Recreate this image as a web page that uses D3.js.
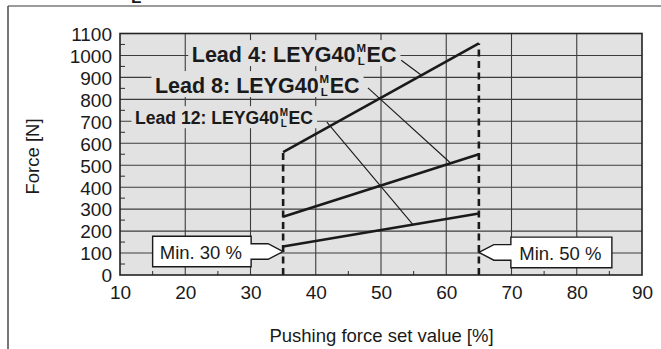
<!DOCTYPE html>
<html>
<head>
<meta charset="utf-8">
<script src="https://cdn.jsdelivr.net/npm/d3@7"></script>
<style>
  html, body { margin: 0; padding: 0; background: #ffffff; }
  svg { display: block; font-family: Arial, "Liberation Sans", Helvetica, sans-serif; }
</style>
</head>
<body>
<svg id="chart" width="661" height="349"></svg>
<script>
// ---------------- data ----------------
const xTicks = [10, 20, 30, 40, 50, 60, 70, 80, 90];
const yTicks = [0, 100, 200, 300, 400, 500, 600, 700, 800, 900, 1000, 1100];
const xMinor = [15, 25, 35, 45, 55, 65, 75, 85];
const yMinor = [50, 150, 250, 350, 450, 550, 650, 750, 850, 950, 1050];
const setValues = [35, 65];               // pushing force set value [%]
const lead4 = [560, 1055];                // force [N]
const lead8 = [265, 550];
const lead12 = [130, 280];
const seriesNames = ["Lead 4", "Lead 8", "Lead 12"];
const labelMain = ["Lead 4: LEYG40", "Lead 8: LEYG40", "Lead 12: LEYG40"];
const labelX = [21.0, 15.35, 12.3];
const labelY = [972, 831, 689];
const leaderStart = [[53.1, 978], [48.0, 852], [41.7, 696]];
const leaderEndX = [56.2, 60.7, 54.9];
const calloutText = ["Min. 30 %", "Min. 50 %"];
const calloutX = [35, 65];
const calloutY = [107, 103];
const xTitle = "Pushing force set value [%]";
const yTitle = "Force [N]";

// ---------------- layout ----------------
const svg = d3.select("#chart");
const plot = { left: 120, right: 642, top: 33.5, bottom: 275 };
const x = d3.scaleLinear().domain([10, 90]).range([plot.left, plot.right]);
const y = d3.scaleLinear().domain([0, 1100]).range([plot.bottom, plot.top]);
const dark = "#1a1a1a";
const gridCol = "#3c3c3c";
const bgCol = "#e2e2e2";

// outer frame
svg.append("line").attr("x1", 8).attr("x2", 661).attr("y1", 6).attr("y2", 6)
  .attr("stroke", "#7a7a7a").attr("stroke-width", 1.6);
svg.append("line").attr("x1", 8).attr("x2", 8).attr("y1", 6).attr("y2", 349)
  .attr("stroke", "#555").attr("stroke-width", 1.6);
svg.append("text").attr("x", 131).attr("y", 3).attr("font-size", 17).attr("font-weight", "bold")
  .attr("fill", dark).text("L");

// plot background
svg.append("rect").attr("x", plot.left).attr("y", plot.top)
  .attr("width", plot.right - plot.left).attr("height", plot.bottom - plot.top)
  .attr("fill", bgCol);

// grid
const grid = svg.append("g");
grid.selectAll(".vg").data(xTicks.slice(1, -1)).join("line")
  .attr("x1", d => x(d)).attr("x2", d => x(d)).attr("y1", plot.top).attr("y2", plot.bottom)
  .attr("stroke", gridCol).attr("stroke-width", 1.1);
grid.selectAll(".hg").data(yTicks.slice(1, -1)).join("line")
  .attr("x1", plot.left).attr("x2", plot.right).attr("y1", d => y(d)).attr("y2", d => y(d))
  .attr("stroke", gridCol).attr("stroke-width", 1.1);

// minor ticks
svg.append("g").selectAll("line").data(yMinor).join("line")
  .attr("x1", plot.left).attr("x2", plot.left + 5).attr("y1", d => y(d)).attr("y2", d => y(d))
  .attr("stroke", gridCol).attr("stroke-width", 1.1);
svg.append("g").selectAll("line").data(xMinor).join("line")
  .attr("x1", d => x(d)).attr("x2", d => x(d)).attr("y1", plot.bottom).attr("y2", plot.bottom - 4)
  .attr("stroke", gridCol).attr("stroke-width", 1.1);

// axes (labels via d3 axes, domain/ticks hidden)
const xAxis = svg.append("g").attr("transform", `translate(0,${plot.bottom})`)
  .call(d3.axisBottom(x).tickValues(xTicks).tickSize(0).tickPadding(10).tickFormat(d3.format("d")));
xAxis.select(".domain").remove();
xAxis.selectAll("text").attr("font-size", 19).attr("fill", dark)
  .attr("font-family", "Arial, 'Liberation Sans', sans-serif").attr("dy", "0.75em");
const yAxis = svg.append("g").attr("transform", `translate(${plot.left},0)`)
  .call(d3.axisLeft(y).tickValues(yTicks).tickSize(0).tickPadding(8).tickFormat(d3.format("d")));
yAxis.select(".domain").remove();
yAxis.selectAll("text").attr("font-size", 19).attr("fill", dark)
  .attr("font-family", "Arial, 'Liberation Sans', sans-serif").attr("dy", "0.36em");

// axis titles
svg.append("text").attr("x", (plot.left + plot.right) / 2 + 0.5).attr("y", 341.5)
  .attr("text-anchor", "middle").attr("font-size", 18.5).attr("fill", dark).text(xTitle);
svg.append("text").attr("transform", "translate(38.5,156.5) rotate(-90)")
  .attr("text-anchor", "middle").attr("font-size", 18.5).attr("fill", dark).text(yTitle);

// series labels
const seriesVals = [lead4, lead8, lead12];
const labelSize = [21.5, 21.5, 17.6];
const labLayer = svg.append("g");
labelMain.forEach((txt, i) => {
  const fs = labelSize[i];
  const g = labLayer.append("g");
  const bx = x(labelX[i]), by = y(labelY[i]);
  const bgRect = g.append("rect").attr("fill", bgCol);
  const main = g.append("text").attr("x", bx).attr("y", by).attr("font-size", fs)
    .attr("font-weight", "bold").attr("fill", dark).text(txt);
  const w = main.node().getComputedTextLength();
  const mx = bx + w + 1.0;
  const ms = i < 2 ? 11.5 : 10;
  const mBase = by - fs * 0.45;
  const mText = g.append("text").attr("x", mx).attr("y", mBase).attr("font-size", ms)
    .attr("font-weight", "bold").attr("fill", dark).text("M");
  const mw = mText.node().getComputedTextLength();
  g.append("text").attr("x", mx + mw * 0.12).attr("y", mBase + ms * 1.14).attr("font-size", ms)
    .attr("font-weight", "bold").attr("fill", dark).text("L");
  const ex = mx + mw + 0.5;
  const ec = g.append("text").attr("x", ex).attr("y", by).attr("font-size", fs)
    .attr("font-weight", "bold").attr("fill", dark).text("EC");
  const endX = ex + ec.node().getComputedTextLength();
  bgRect.attr("x", bx - 3.5).attr("y", by - fs * 1.0)
    .attr("width", endX - bx + 7.5).attr("height", fs * 1.0 + 4.5);
});

// leader lines
const lineVal = (vals, xv) => vals[0] + (vals[1] - vals[0]) * (xv - setValues[0]) / (setValues[1] - setValues[0]);
svg.append("g").selectAll("line").data(seriesNames).join("line")
  .attr("x1", (d, i) => x(leaderStart[i][0])).attr("y1", (d, i) => y(leaderStart[i][1]))
  .attr("x2", (d, i) => x(leaderEndX[i])).attr("y2", (d, i) => y(lineVal(seriesVals[i], leaderEndX[i])))
  .attr("stroke", dark).attr("stroke-width", 1.1);

// dashed set-value lines
svg.append("g").selectAll("line").data(setValues).join("line")
  .attr("x1", d => x(d)).attr("x2", d => x(d))
  .attr("y1", y(0)).attr("y2", (d, i) => y(lead4[i]))
  .attr("stroke", dark).attr("stroke-width", 2.6).attr("stroke-dasharray", "7,4.5");

// data lines
const lineGen = d3.line().x(d => x(d[0])).y(d => y(d[1]));
svg.append("g").selectAll("path").data(seriesVals).join("path")
  .attr("d", vals => lineGen(setValues.map((s, j) => [s, vals[j]])))
  .attr("fill", "none").attr("stroke", dark).attr("stroke-width", 2.6);

// callouts
const boxW = [98.5, 101];
calloutText.forEach((t, i) => {
  const tx = x(calloutX[i]), ty = y(calloutY[i]);
  const s = i === 0 ? -1 : 1;
  const neck = 15, gap = 32, hh = 15.3, nh = 7.8, bw = boxW[i];
  const pts = [[0, 0], [s * neck, -nh], [s * gap, -nh], [s * gap, -hh], [s * (gap + bw), -hh],
               [s * (gap + bw), hh], [s * gap, hh], [s * gap, nh], [s * neck, nh]];
  svg.append("path")
    .attr("d", d3.line()(pts.map(p => [tx + p[0], ty + p[1]])) + "Z")
    .attr("fill", "#ffffff").attr("stroke", dark).attr("stroke-width", 1.4);
  svg.append("text").attr("x", tx + s * (gap + bw / 2) - 1).attr("y", ty + 7.8)
    .attr("text-anchor", "middle").attr("font-size", 18.5).attr("fill", dark).text(t);
});

// plot border
svg.append("rect").attr("x", plot.left).attr("y", plot.top)
  .attr("width", plot.right - plot.left).attr("height", plot.bottom - plot.top)
  .attr("fill", "none").attr("stroke", "#222").attr("stroke-width", 1.6);
</script>
</body>
</html>
